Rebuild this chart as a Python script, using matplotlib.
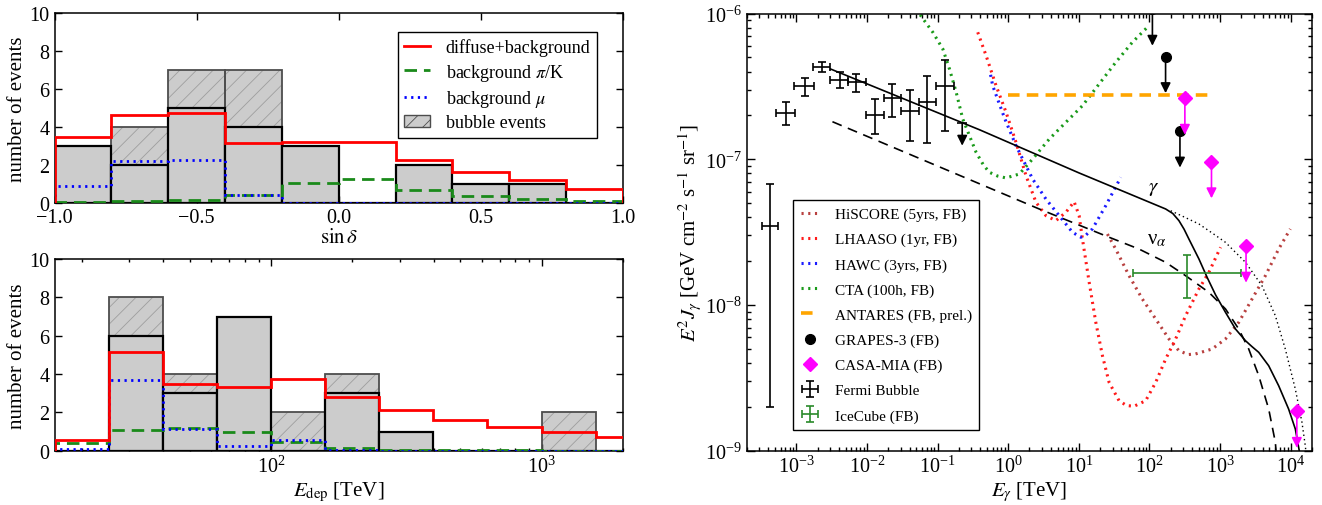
import numpy as np
import matplotlib
matplotlib.use('Agg')
import matplotlib.pyplot as plt
from matplotlib.patches import Patch
from matplotlib.lines import Line2D

plt.rcParams['font.family'] = ['Liberation Serif', 'DejaVu Serif']
plt.rcParams['mathtext.fontset'] = 'stix'
plt.rcParams['hatch.linewidth'] = 0.6
plt.rcParams['axes.linewidth'] = 1.1

# ---------------- data: top-left panel (sin delta) ----------------
sindec_edges = [-1.0, -0.8, -0.6, -0.4, -0.2, 0.0, 0.2, 0.4, 0.6, 0.8, 1.0]
sindec_total = [3, 4, 7, 7, 3, 0, 2, 1, 1, 0]
sindec_subset = [3, 2, 5, 4, 3, 0, 2, 1, 1, 0]
sindec_diffuse = [3.49, 4.65, 4.76, 3.14, 3.23, 3.21, 2.24, 1.63, 1.19, 0.74]
sindec_piK = [0.07, 0.08, 0.14, 0.40, 1.07, 1.28, 0.70, 0.36, 0.23, 0.13]
sindec_mu = [0.90, 2.19, 2.28, 0.44, 0.01, 0.01, 0.01, 0.01, 0.01, 0.01]

# ---------------- data: bottom-left panel (deposited energy) ----------------
edep_edges = [15.85, 25.12, 39.81, 63.10, 100.0, 158.5, 251.2, 398.1, 631.0, 1000.0, 1585.0, 2512.0]
edep_total = [0, 8, 4, 7, 2, 4, 1, 0, 0, 2, 0]
edep_subset = [0, 6, 3, 7, 0, 3, 1, 0, 0, 0, 0]
edep_diffuse = [0.56, 5.15, 3.46, 3.32, 3.75, 2.78, 2.12, 1.62, 1.25, 0.97, 0.73]
edep_piK = [0.41, 1.07, 1.20, 0.95, 0.45, 0.16, 0.06, 0.03, 0.02, 0.01, 0.01]
edep_mu = [0.07, 3.70, 1.13, 0.27, 0.55, 0.02, 0.01, 0.01, 0.01, 0.01, 0.01]

# ---------------- data: right panel (log10 E [TeV], log10 flux) ----------------
hiscore_logE = [1.404, 1.522, 1.711, 1.899, 2.088, 2.276, 2.417, 2.55, 2.652, 2.887, 3.076, 3.264, 3.452, 3.641, 3.829, 3.994]
hiscore_logF = [-7.513, -7.616, -7.799, -7.959, -8.096, -8.233, -8.314, -8.34, -8.336, -8.302, -8.233, -8.119, -7.959, -7.799, -7.616, -7.478]

lhaaso_logE = [-0.432, -0.313, -0.172, -0.031, 0.110, 0.252, 0.393, 0.534, 0.675, 0.816, 0.933, 1.004, 1.051, 1.146,
               1.240, 1.334, 1.428, 1.569, 1.675, 1.781, 1.946, 2.088, 2.229, 2.370, 2.512, 2.700, 2.841, 3.006]
lhaaso_logF = [-6.128, -6.289, -6.495, -6.677, -6.883, -7.113, -7.295, -7.387, -7.421, -7.364, -7.291, -7.387, -7.547, -7.844,
               -8.119, -8.348, -8.531, -8.657, -8.69, -8.695, -8.657, -8.531, -8.371, -8.233, -8.073, -7.890, -7.776, -7.604]

hawc_logE = [-0.25, -0.22, -0.05, 0.110, 0.345, 0.534, 0.722, 0.910, 1.028, 1.10, 1.192, 1.381, 1.593]
hawc_logF = [-6.42, -6.495, -6.72, -6.906, -7.135, -7.273, -7.387, -7.501, -7.535, -7.52, -7.478, -7.318, -7.124]

cta_logE = [-1.30, -1.256, -1.068, -0.926, -0.832, -0.737, -0.644, -0.549, -0.455, -0.35, -0.267, -0.15, -0.031,
            0.157, 0.345, 0.581, 0.816, 1.051, 1.287, 1.523, 1.757, 1.969]
cta_logF = [-5.97, -6.003, -6.128, -6.243, -6.380, -6.54, -6.723, -6.838, -6.952, -7.04, -7.089, -7.115, -7.128,
            -7.101, -6.998, -6.861, -6.746, -6.632, -6.483, -6.334, -6.197, -6.094]

gamma_logE = [-2.517, -0.408, 1.0, 2.229, 2.33, 2.417, 2.49, 2.558, 2.700, 2.816, 2.935, 3.076, 3.218, 3.359, 3.45,
              3.547, 3.688, 3.829, 3.970, 4.065, 4.112, 4.14]
gamma_logF = [-6.380, -6.797, -7.093, -7.341, -7.372, -7.421, -7.48, -7.547, -7.684, -7.81, -7.93, -8.050, -8.165,
              -8.245, -8.285, -8.325, -8.417, -8.554, -8.714, -8.851, -8.977, -9.05]

gamma_nocut_logE = [2.30, 2.50, 2.70, 2.90, 3.076, 3.359, 3.593, 3.782, 3.923, 4.065, 4.159, 4.206, 4.225]
gamma_nocut_logF = [-7.353, -7.398, -7.444, -7.51, -7.570, -7.707, -7.868, -8.073, -8.302, -8.577, -8.805, -8.966, -9.05]

nu_logE = [-2.489, 0.439, 1.428, 1.852, 2.229, 2.512, 2.841, 3.076, 3.264, 3.405, 3.547, 3.688, 3.782, 3.80]
nu_logF = [-6.742, -7.341, -7.535, -7.616, -7.707, -7.799, -7.913, -8.027, -8.165, -8.302, -8.485, -8.714, -8.942, -9.05]

antares_E = [1.0, 800.0]
antares_F = [2.77e-7, 2.77e-7]

grapes_E = [110.0, 169.0, 270.0]
grapes_F = [1.07e-6, 5.06e-7, 1.56e-7]

casa_E = [317.0, 755.0, 2330.0, 12200.0]
casa_F = [2.62e-7, 9.6e-8, 2.53e-8, 1.86e-9]

fermi_E = [4.27e-4, 7.11e-4, 1.318e-3, 2.27e-3, 4.12e-3, 7.10e-3, 1.285e-2, 2.286e-2, 4.01e-2, 7.13e-2, 0.128]
fermi_Elo = [3.23e-4, 5.14e-4, 9.23e-4, 1.73e-3, 3.04e-3, 5.40e-3, 9.59e-3, 1.72e-2, 3.06e-2, 5.37e-2, 9.55e-2]
fermi_Ehi = [5.56e-4, 9.53e-4, 1.77e-3, 3.04e-3, 5.40e-3, 9.82e-3, 1.72e-2, 3.06e-2, 5.43e-2, 9.55e-2, 0.169]
fermi_F = [3.50e-8, 2.08e-7, 3.17e-7, 4.28e-7, 3.52e-7, 3.37e-7, 2.01e-7, 2.62e-7, 2.16e-7, 2.48e-7, 3.17e-7]
fermi_Flo = [2.0e-9, 1.72e-7, 2.74e-7, 3.95e-7, 3.07e-7, 2.91e-7, 1.49e-7, 1.95e-7, 1.33e-7, 1.29e-7, 1.56e-7]
fermi_Fhi = [6.76e-8, 2.46e-7, 3.61e-7, 4.68e-7, 3.99e-7, 3.85e-7, 2.59e-7, 3.29e-7, 2.99e-7, 3.72e-7, 4.81e-7]

fermi_ul_E = [0.223]
fermi_ul_F = [1.77e-7]
fermi_ul_end = [1.24e-7]

icecube_E = [336.0]
icecube_Elo = [59.0]
icecube_Ehi = [1960.0]
icecube_F = [1.66e-8]
icecube_Flo = [1.12e-8]
icecube_Fhi = [2.20e-8]

UL_DROP = 10 ** -0.25  # arrow length of upper limits (decades)

# ---------------- figure ----------------
fig = plt.figure(figsize=(13.22, 5.06), dpi=100)
ax1 = fig.add_axes([0.04123, 0.59684, 0.43003, 0.37549])
ax2 = fig.add_axes([0.04123, 0.10731, 0.43003, 0.37885])
ax3 = fig.add_axes([0.56505, 0.10731, 0.42738, 0.86383])

TICK_FS = 14.5
LABEL_FS = 15

RED = '#ff0000'
GREEN = '#1a8a1a'
BLUE = '#0000ff'


def draw_hist(ax, edges, total, subset, diffuse, pik, mu):
    edges = np.asarray(edges, dtype=float)
    left = edges[:-1]
    width = np.diff(edges)
    # total events: hatched
    ax.bar(left, total, width=width, align='edge', facecolor='0.8',
           edgecolor='0.62', hatch='//', linewidth=0, zorder=1)
    ax.bar(left, total, width=width, align='edge', fill=False,
           edgecolor='0.3', linewidth=1.3, zorder=2)
    # subset events: solid
    ax.bar(left, subset, width=width, align='edge', facecolor='0.8',
           edgecolor='k', linewidth=1.6, zorder=3)
    ax.stairs(pik, edges, color=GREEN, lw=2.0, linestyle=(0, (4.5, 2.5)), zorder=4)
    ax.stairs(mu, edges, color=BLUE, lw=2.0, linestyle=(0, (0.8, 1.6)), zorder=4)
    ax.stairs(diffuse, edges, color=RED, lw=2.0, zorder=5)
    ax.set_ylim(0, 10)
    ax.set_yticks([0, 2, 4, 6, 8, 10])
    ax.set_ylabel('number of events', fontsize=LABEL_FS, labelpad=2)
    ax.tick_params(which='both', direction='in', top=True, right=True,
                   labelsize=TICK_FS, width=1.0)
    ax.tick_params(which='major', length=5)
    ax.tick_params(which='minor', length=2.5)


# top-left
draw_hist(ax1, sindec_edges, sindec_total, sindec_subset, sindec_diffuse, sindec_piK, sindec_mu)
ax1.set_xlim(-1, 1)
ax1.set_xticks([-1.0, -0.5, 0.0, 0.5, 1.0])
ax1.set_xticklabels(['\u22121.0', '\u22120.5', '0.0', '0.5', '1.0'])
ax1.set_xlabel(r'$\sin\delta$', fontsize=LABEL_FS, labelpad=1)

leg_handles = [Line2D([], [], color=RED, lw=2.0),
               Line2D([], [], color=GREEN, lw=2.0, linestyle=(0, (4.5, 2.5))),
               Line2D([], [], color=BLUE, lw=2.0, linestyle=(0, (0.8, 1.6))),
               Patch(facecolor='0.8', edgecolor='0.3', hatch='//', linewidth=1.0)]
leg_labels = ['diffuse+background', r'background $\pi$/K', r'background $\mu$', 'bubble events']
lg1 = ax1.legend(leg_handles, leg_labels, loc='upper right', bbox_to_anchor=(0.954, 0.9),
                 borderaxespad=0, fontsize=13, fancybox=False, edgecolor='k', framealpha=1,
                 handlelength=1.4, handletextpad=0.9, labelspacing=0.3, borderpad=0.35)
lg1.get_frame().set_linewidth(1.0)

# bottom-left
ax2.set_xscale('log')
draw_hist(ax2, edep_edges, edep_total, edep_subset, edep_diffuse, edep_piK, edep_mu)
ax2.set_xlim(15.85, 2000)
ax2.set_xlabel(r'$E_{\rm dep}$ [TeV]', fontsize=LABEL_FS, labelpad=2)

# right panel
ax3.set_xscale('log')
ax3.set_yscale('log')


def L(a):
    return 10 ** np.asarray(a, dtype=float)


h_hiscore, = ax3.plot(L(hiscore_logE), L(hiscore_logF), color='#b8403f', lw=2.2, linestyle=(0, (0.7, 1.5)),
                      label='HiSCORE (5yrs, FB)')
h_lhaaso, = ax3.plot(L(lhaaso_logE), L(lhaaso_logF), color='#ff1a1a', lw=2.2, linestyle=(0, (0.7, 1.5)),
                     label='LHAASO (1yr, FB)')
h_hawc, = ax3.plot(L(hawc_logE), L(hawc_logF), color='#1a1aff', lw=2.2, linestyle=(0, (0.7, 1.5)),
                   label='HAWC (3yrs, FB)')
h_cta, = ax3.plot(L(cta_logE), L(cta_logF), color='#1a9a1a', lw=2.2, linestyle=(0, (0.7, 1.5)),
                  label='CTA (100h, FB)')
h_ant, = ax3.plot(antares_E, antares_F, color='#ffa500', lw=2.6, linestyle=(0, (3.2, 2.0)),
                  label='ANTARES (FB, prel.)')

ax3.plot(L(gamma_logE), L(gamma_logF), color='k', lw=1.2)
ax3.plot(L(gamma_nocut_logE), L(gamma_nocut_logF), color='k', lw=1.0, linestyle=(0, (1, 2.2)))
ax3.plot(L(nu_logE), L(nu_logF), color='k', lw=1.2, linestyle=(0, (6, 4)))

ax3.text(116, 6.43e-8, r'$\gamma$', fontsize=15, ha='center', va='center')
ax3.text(129, 2.84e-8, '\u03bd$_{\\alpha}$', fontsize=15, ha='center', va='center')


def ul_arrows(x, y0, y1, color):
    for xi, a, b in zip(x, y0, y1):
        ann = ax3.annotate('', xy=(xi, b), xytext=(xi, a),
                           arrowprops=dict(arrowstyle='-|>', color=color, lw=1.2,
                                           mutation_scale=15, shrinkA=0, shrinkB=0),
                           annotation_clip=False)
        ann.arrow_patch.set_clip_on(True)
        ann.arrow_patch.set_clip_box(ax3.bbox)


ul_arrows(grapes_E, grapes_F, [f * UL_DROP for f in grapes_F], 'k')
ul_arrows(casa_E, casa_F, [f * UL_DROP for f in casa_F], '#ff00ff')
ul_arrows(fermi_ul_E, fermi_ul_F, fermi_ul_end, 'k')
ax3.plot(fermi_ul_E, fermi_ul_F, marker='_', color='k', ms=7, mew=1.2, linestyle='none')

h_grapes, = ax3.plot(grapes_E, grapes_F, 'o', color='k', ms=7, linestyle='none', label='GRAPES-3 (FB)')
h_casa, = ax3.plot(casa_E, casa_F, 'D', color='#ff00ff', ms=7, linestyle='none', label='CASA-MIA (FB)')

fE = np.array(fermi_E)
fF = np.array(fermi_F)
h_fermi = ax3.errorbar(fE, fF, xerr=[fE - np.array(fermi_Elo), np.array(fermi_Ehi) - fE],
                       yerr=[fF - np.array(fermi_Flo), np.array(fermi_Fhi) - fF],
                       fmt='none', ecolor='k', elinewidth=1.2, capsize=3.2, capthick=1.2,
                       label='Fermi Bubble')
iE = np.array(icecube_E)
iF = np.array(icecube_F)
h_ice = ax3.errorbar(iE, iF, xerr=[iE - np.array(icecube_Elo), np.array(icecube_Ehi) - iE],
                     yerr=[iF - np.array(icecube_Flo), np.array(icecube_Fhi) - iF],
                     fmt='none', ecolor='#2a8a2a', elinewidth=1.2, capsize=3.2, capthick=1.2,
                     label='IceCube (FB)')

ax3.set_xlim(2e-4, 2e4)
ax3.set_ylim(1e-9, 1e-6)
ax3.tick_params(which='both', direction='in', top=True, right=True, labelsize=TICK_FS, width=1.0)
ax3.tick_params(which='major', length=6)
ax3.tick_params(which='minor', length=3)
ax3.set_xlabel(r'$E_\gamma$ [TeV]', fontsize=LABEL_FS, labelpad=2)
ax3.set_ylabel(r'$E^2 J_\gamma$ [GeV cm$^{-2}$ s$^{-1}$ sr$^{-1}$]', fontsize=LABEL_FS, labelpad=1)

handles3 = [h_hiscore, h_lhaaso, h_hawc, h_cta, h_ant, h_grapes, h_casa, h_fermi, h_ice]
lg3 = ax3.legend(handles=handles3, labels=[h.get_label() for h in handles3],
                 loc='lower left', bbox_to_anchor=(0.082, 0.047), borderaxespad=0,
                 fontsize=11, fancybox=False, edgecolor='k', framealpha=1, numpoints=1,
                 handlelength=1.2, handletextpad=1.0, labelspacing=0.74, borderpad=0.5)
lg3.get_frame().set_linewidth(1.0)

fig.savefig('out.png', dpi=100)
